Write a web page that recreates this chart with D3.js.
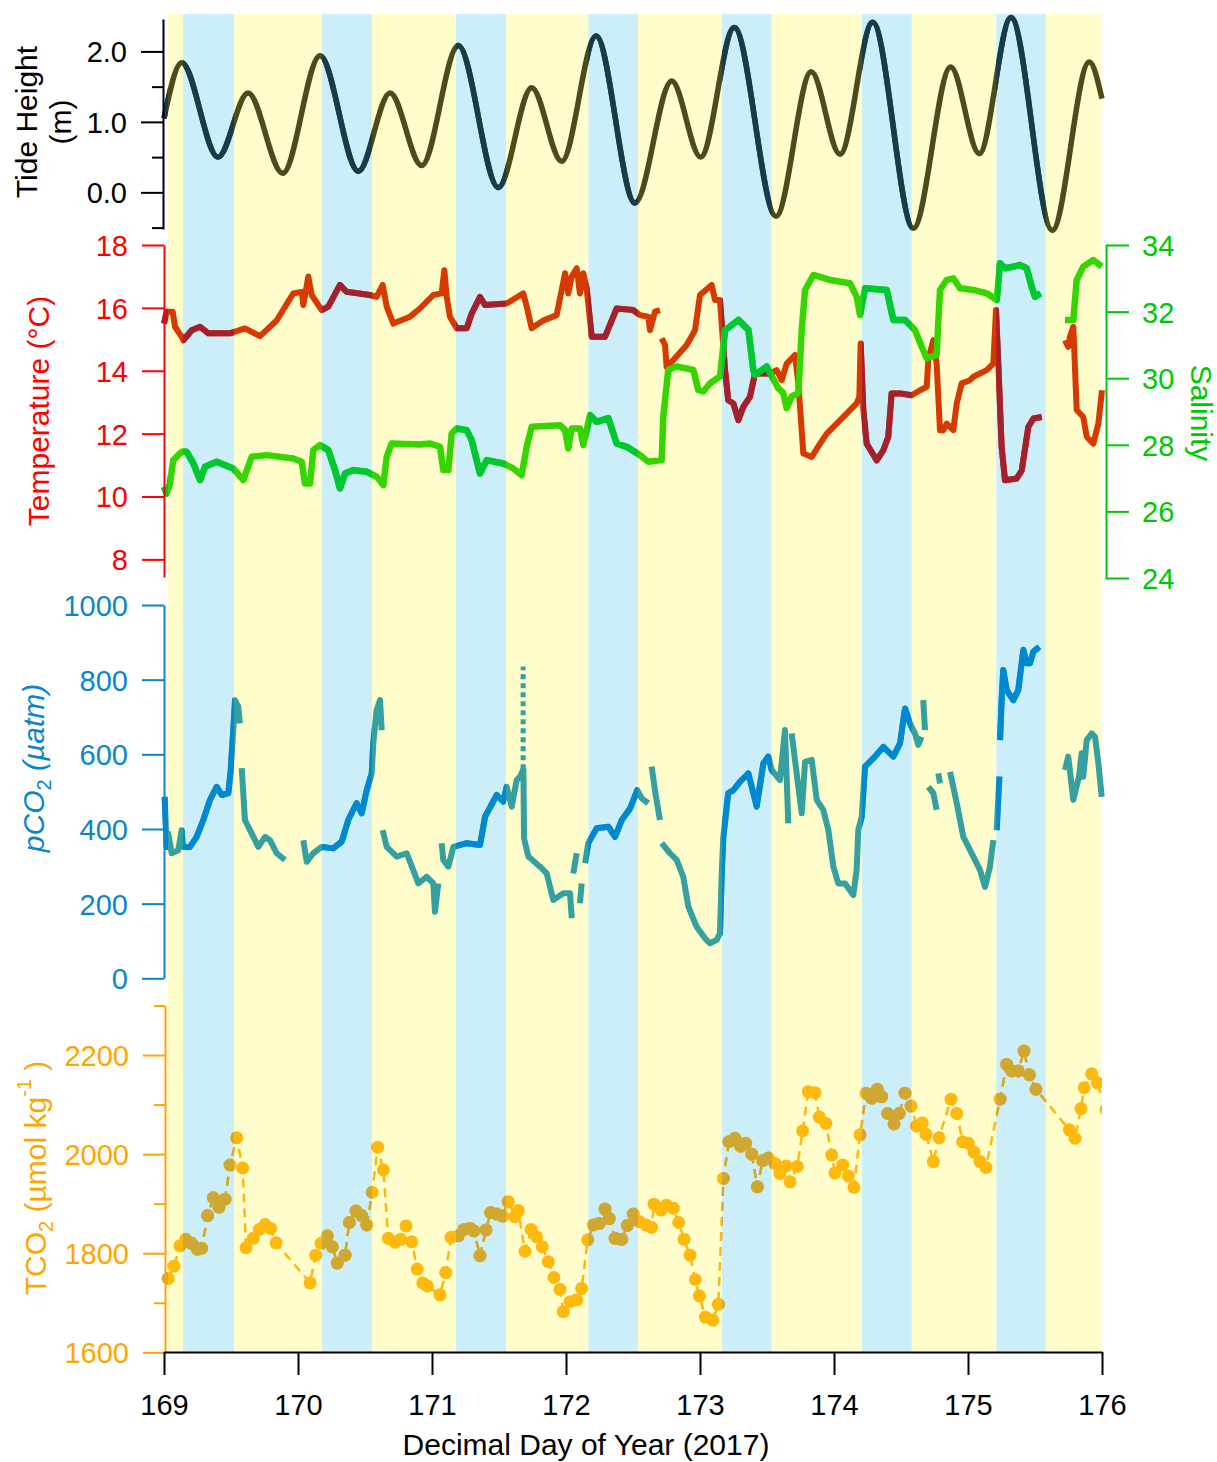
<!DOCTYPE html>
<html><head><meta charset="utf-8">
<script src="https://cdn.jsdelivr.net/npm/d3@7"></script>
<style>body{margin:0;background:#fff}svg{display:block}</style>
</head><body><svg id="c" width="1217" height="1462"></svg>
<script>
// ---------------- DATA ----------------
const nightStart = [169.142, 170.179, 171.179, 172.167, 173.164, 174.209, 175.211];
const nightEnd   = [169.522, 170.552, 171.552, 172.537, 173.535, 174.580, 175.580];
const xTicks = [169,170,171,172,173,174,175,176];

// tide extrema (day, m)
const tide = [[169.000,1.05],[169.132,1.84],[169.403,0.50],[169.627,1.41],[169.886,0.27],[170.164,1.94],[170.450,0.30],[170.687,1.41],[170.923,0.38],[171.196,2.085],[171.495,0.07],[171.744,1.485],[171.968,0.44],[172.224,2.22],[172.515,-0.15],[172.789,1.58],[173.005,0.50],[173.256,2.34],[173.567,-0.34],[173.830,1.71],[174.045,0.54],[174.289,2.415],[174.592,-0.51],[174.871,1.78],[175.084,0.55],[175.321,2.48],[175.629,-0.54],[175.905,1.85],[176.000,1.33]];

const temperature = [[169.000,15.5],[169.020,15.88],[169.065,15.88],[169.082,15.40],[169.132,15.08],[169.144,14.97],[169.207,15.29],[169.269,15.40],[169.331,15.19],[169.493,15.19],[169.604,15.35],[169.716,15.10],[169.841,15.60],[169.965,16.46],[170.028,16.51],[170.040,16.09],[170.077,17.00],[170.102,16.41],[170.177,15.93],[170.226,16.04],[170.313,16.73],[170.363,16.51],[170.537,16.41],[170.587,16.35],[170.632,16.73],[170.662,16.04],[170.711,15.50],[170.836,15.72],[170.910,15.98],[171.010,16.41],[171.072,16.46],[171.092,17.20],[171.110,16.35],[171.134,15.72],[171.184,15.35],[171.259,15.35],[171.296,15.82],[171.358,16.35],[171.396,16.09],[171.557,16.14],[171.681,16.46],[171.707,16.04],[171.744,15.35],[171.831,15.60],[171.930,15.77],[171.993,17.10],[172.017,16.46],[172.043,17.00],[172.080,17.26],[172.104,16.46],[172.129,17.10],[172.154,16.62],[172.192,15.08],[172.291,15.08],[172.378,15.98],[172.502,15.93],[172.552,15.77],[172.614,15.72],[172.627,15.29],[172.664,15.88],[172.701,15.93],null,[172.714,15.03],[172.739,14.82],[172.751,14.12],[172.801,14.34],[172.901,14.82],[172.963,15.29],[173.000,16.41],[173.087,16.73],[173.112,16.25],[173.149,16.25],[173.187,14.02],[173.211,13.06],[173.249,12.96],[173.286,12.43],[173.323,12.85],[173.373,13.17],[173.410,13.91],[173.522,13.91],[173.572,14.02],[173.610,13.70],[173.647,14.23],[173.709,14.50],[173.734,13.60],[173.771,11.37],[173.834,11.26],[173.896,11.68],[173.946,12.00],[174.070,12.53],[174.169,12.96],[174.189,13.17],[174.199,14.87],[174.219,12.75],[174.244,11.68],[174.319,11.15],[174.368,11.47],[174.405,11.90],[174.430,13.28],[174.493,13.28],[174.580,13.22],[174.642,13.38],[174.692,13.49],[174.704,14.34],[174.741,14.97],[174.766,14.23],[174.791,12.11],[174.816,12.11],[174.841,12.32],[174.890,12.11],[174.916,12.96],[174.953,13.60],[175.015,13.70],[175.040,13.81],[175.140,14.02],[175.189,14.23],[175.209,15.93],[175.226,14.23],[175.251,11.58],[175.276,10.52],[175.363,10.57],[175.401,10.83],[175.450,12.21],[175.488,12.48],[175.550,12.53],null,[175.724,14.97],[175.748,14.76],[175.761,15.08],[175.786,15.40],[175.811,12.75],[175.860,12.53],[175.886,11.90],[175.935,11.68],[175.973,12.32],[176.000,13.38]];

const salinity = [[169.000,26.74],[169.020,26.54],[169.045,26.84],[169.069,27.54],[169.132,27.79],[169.169,27.79],[169.219,27.44],[169.269,26.94],[169.306,27.34],[169.393,27.49],[169.517,27.29],[169.592,26.94],[169.654,27.64],[169.766,27.69],[169.965,27.59],[170.028,27.49],[170.052,26.84],[170.090,26.84],[170.114,27.84],[170.164,27.99],[170.226,27.84],[170.276,27.24],[170.313,26.69],[170.351,27.14],[170.413,27.24],[170.513,27.19],[170.587,27.04],[170.637,26.79],[170.662,27.64],[170.699,28.04],[170.910,28.01],[170.985,28.04],[171.060,27.94],[171.084,27.24],[171.122,27.24],[171.147,28.34],[171.184,28.49],[171.259,28.44],[171.296,28.14],[171.358,27.14],[171.408,27.54],[171.532,27.44],[171.607,27.29],[171.669,27.09],[171.707,27.94],[171.744,28.54],[171.955,28.59],[171.993,28.44],[172.017,27.89],[172.043,28.49],[172.104,28.49],[172.129,27.99],[172.179,28.89],[172.229,28.69],[172.316,28.80],[172.378,28.04],[172.453,27.94],[172.552,27.69],[172.614,27.49],[172.714,27.54],[172.726,28.84],[172.763,30.25],[172.826,30.35],[172.950,30.25],[172.987,29.65],[173.025,29.60],[173.075,29.85],[173.149,30.05],[173.187,31.45],[173.224,31.55],[173.286,31.75],[173.361,31.45],[173.398,30.25],[173.410,30.10],[173.498,30.35],[173.584,29.70],[173.622,29.55],[173.647,29.10],[173.684,29.45],[173.734,29.55],[173.759,31.45],[173.784,32.65],[173.846,33.10],[173.970,32.95],[174.119,32.85],[174.169,32.45],[174.194,31.90],[174.231,32.70],[174.393,32.65],[174.443,31.75],[174.530,31.75],[174.604,31.45],[174.654,30.95],[174.692,30.60],[174.766,30.70],[174.791,32.65],[174.841,32.95],[174.890,33.00],[174.940,32.70],[175.040,32.65],[175.140,32.55],[175.214,32.35],[175.239,33.45],[175.276,33.30],[175.338,33.35],[175.388,33.40],[175.438,33.30],[175.475,32.75],[175.500,32.45],[175.542,32.55],null,[175.724,31.75],[175.786,31.75],[175.811,32.95],[175.860,33.35],[175.935,33.55],[175.998,33.35]];

const pco2 = [[169.005,486],[169.020,352],[169.032,388],[169.057,335],[169.107,343],[169.132,397],[169.140,352],[169.194,352],[169.244,379],[169.293,424],[169.343,478],[169.393,513],[169.431,491],[169.480,496],[169.498,558],[169.517,665],[169.530,745],[169.554,728],[169.567,683],null,[169.580,563],[169.604,424],[169.642,397],[169.704,352],[169.754,379],[169.791,370],[169.841,335],[169.903,317],null,[170.040,370],[170.065,312],[170.114,335],[170.177,352],[170.263,348],[170.326,366],[170.375,424],[170.438,469],[170.475,442],[170.513,504],[170.550,549],[170.562,630],[170.587,719],[170.612,745],[170.625,665],null,[170.632,397],[170.662,352],[170.737,326],[170.811,335],[170.860,290],[170.898,254],[170.960,272],[171.010,254],[171.022,178],[171.047,254],null,[171.072,362],[171.084,317],[171.122,299],[171.159,352],[171.259,362],[171.358,357],[171.396,433],[171.483,491],[171.532,473],[171.557,513],[171.595,460],[171.632,531],[171.657,540],[171.682,560],[171.687,375],[171.719,326],[171.806,299],[171.856,281],[171.905,210],[171.980,228],[172.030,228],[172.043,161],null,[172.054,281],[172.080,335],null,[172.104,201],[172.117,254],null,[172.142,308],[172.166,362],[172.192,379],[172.229,402],[172.316,406],[172.366,379],[172.416,424],[172.478,455],[172.532,504],[172.565,482],[172.614,469],null,[172.639,567],[172.664,504],[172.701,424],null,[172.714,362],[172.776,335],[172.826,317],[172.875,272],[172.913,192],[172.975,138],[173.037,107],[173.075,94],[173.125,103],[173.149,121],[173.162,281],[173.174,379],[173.211,496],[173.249,504],[173.299,527],[173.361,549],[173.398,496],[173.423,460],[173.473,576],[173.510,594],[173.535,558],[173.597,531],[173.634,665],[173.659,415],null,[173.684,656],[173.734,513],[173.759,442],[173.784,580],[173.834,585],[173.871,478],[173.920,451],[173.958,397],[173.995,299],[174.032,254],[174.082,254],[174.144,223],[174.169,290],[174.181,397],[174.207,433],[174.231,567],[174.293,589],[174.368,620],[174.443,594],[174.493,630],[174.530,723],[174.567,683],[174.604,656],[174.629,625],[174.654,647],null,[174.666,745],[174.679,665],null,[174.704,513],[174.741,496],[174.766,451],null,[174.779,549],[174.791,522],null,[174.866,553],[174.916,469],[174.965,379],[175.040,326],[175.090,290],[175.127,245],[175.164,299],[175.189,370],null,[175.214,397],[175.234,540],null,[175.239,638],[175.251,745],[175.263,826],[175.289,772],[175.338,745],[175.375,772],[175.413,880],[175.438,844],[175.463,844],[175.488,875],[175.532,888],null,[175.724,558],[175.748,594],[175.786,478],[175.828,540],[175.848,603],[175.860,540],[175.886,638],[175.923,656],[175.948,647],[175.973,576],[175.998,486]];
const pco2Spike = [[171.680,560],[171.680,835]];

const tco2 = [[169.032,1749],[169.075,1774],[169.119,1815],[169.162,1828],[169.207,1820],[169.249,1808],[169.281,1810],[169.326,1876],[169.368,1912],[169.410,1893],[169.455,1909],[169.493,1978],[169.543,2033],[169.587,1972],[169.612,1811],[169.666,1830],[169.711,1848],[169.754,1858],[169.796,1850],[169.836,1821],[170.090,1740],[170.132,1796],[170.172,1820],[170.219,1835],[170.256,1813],[170.293,1780],[170.351,1796],[170.383,1862],[170.433,1885],[170.475,1876],[170.513,1857],[170.554,1923],[170.595,2014],[170.637,1968],[170.674,1830],[170.724,1822],[170.766,1828],[170.806,1855],[170.849,1823],[170.890,1768],[170.931,1740],[170.965,1734],[171.060,1716],[171.102,1761],[171.142,1832],[171.196,1835],[171.239,1848],[171.284,1850],[171.313,1845],[171.358,1795],[171.403,1847],[171.438,1882],[171.483,1879],[171.528,1875],[171.569,1904],[171.619,1874],[171.644,1886],[171.694,1804],[171.739,1848],[171.781,1833],[171.823,1813],[171.868,1783],[171.910,1751],[171.955,1727],[171.980,1682],[172.030,1702],[172.080,1706],[172.117,1729],[172.162,1827],[172.204,1857],[172.249,1860],[172.291,1889],[172.323,1870],[172.366,1830],[172.416,1828],[172.458,1856],[172.502,1879],[172.547,1864],[172.597,1857],[172.639,1852],[172.657,1899],[172.709,1887],[172.751,1897],[172.801,1891],[172.841,1862],[172.881,1828],[172.925,1796],[172.965,1747],[172.995,1714],[173.040,1671],[173.095,1665],[173.137,1697],[173.174,1951],[173.216,2025],[173.261,2032],[173.304,2016],[173.341,2022],[173.386,2000],[173.428,1934],[173.468,1987],[173.510,1992],[173.560,1981],[173.597,1961],[173.642,1976],[173.672,1944],[173.726,1975],[173.766,2047],[173.808,2126],[173.858,2124],[173.890,2075],[173.940,2062],[173.983,1998],[174.007,1962],[174.065,1978],[174.107,1956],[174.149,1933],[174.194,2039],[174.239,2123],[174.281,2113],[174.323,2131],[174.356,2116],[174.401,2082],[174.448,2061],[174.487,2082],[174.530,2123],[174.575,2097],[174.617,2057],[174.659,2063],[174.687,2040],[174.741,1985],[174.784,2033],[174.873,2111],[174.916,2082],[174.960,2025],[175.002,2022],[175.045,2004],[175.090,1985],[175.134,1973],[175.239,2111],[175.289,2181],[175.326,2168],[175.375,2168],[175.418,2208],[175.458,2160],[175.507,2131],[175.756,2049],[175.799,2032],[175.843,2092],[175.866,2134],[175.923,2162],[175.965,2144],[176.030,2090]];

// ---------------- CHART ----------------
const FONT = '"Liberation Sans", Arial, Helvetica, sans-serif';
const svg = d3.select('#c');
const x = d3.scaleLinear().domain([169,176]).range([164,1102]);
const TOP = 14, BOTTOM = 1352;

const yTide = d3.scaleLinear().domain([-0.52,2.46]).range([229,19]);
const yTemp = d3.scaleLinear().domain([7.44,18]).range([577,245]);
const ySal  = d3.scaleLinear().domain([24,34]).range([578,245]);
const yPco2 = d3.scaleLinear().domain([0,1000]).range([978.3,605]);
const yTco2 = d3.scaleLinear().domain([1600,2300]).range([1352.3,1005.5]);

// background bands
const dayS = [169.03, ...nightEnd], dayE = [...nightStart, 176];
const bg = svg.append('g');
bg.selectAll('rect.day').data(d3.range(dayS.length)).join('rect').attr('class','day')
  .attr('x', i => x(dayS[i])).attr('width', i => x(dayE[i]) - x(dayS[i]))
  .attr('y', TOP).attr('height', BOTTOM - TOP).attr('fill', '#fffdcc');
bg.selectAll('rect.night').data(d3.range(nightStart.length)).join('rect').attr('class','night')
  .attr('x', i => x(nightStart[i])).attr('width', i => x(nightEnd[i]) - x(nightStart[i]))
  .attr('y', TOP).attr('height', BOTTOM - TOP).attr('fill', '#cbeef9');

// clip for night colouring
const defs = svg.append('defs');
const nightIntervals = [[168.5,169.03], ...nightStart.map((s,i)=>[s,nightEnd[i]])];
defs.append('clipPath').attr('id','nightClip').selectAll('rect').data(nightIntervals).join('rect')
  .attr('x', d => x(d[0])).attr('width', d => x(d[1]) - x(d[0])).attr('y', 0).attr('height', 1462);
defs.append('clipPath').attr('id','plotClip').append('rect').attr('x',100).attr('y',0).attr('width', x(176)-100).attr('height',1462);

function drawLine(data, y, dayColor, nightColor, width, opts = {}) {
  const line = d3.line().defined(d => d !== null).x(d => x(d[0])).y(d => y(d[1]));
  if (opts.curve) line.curve(opts.curve);
  const g = svg.append('g');
  if (opts.clip) g.attr('clip-path', 'url(#plotClip)');
  const p1 = g.append('path').attr('d', line(data)).attr('fill','none').attr('stroke', dayColor)
    .attr('stroke-width', width).attr('stroke-linejoin', opts.join || 'round').attr('stroke-linecap', opts.cap || 'butt');
  const g2 = g.append('g').attr('clip-path','url(#nightClip)');
  const p2 = g2.append('path').attr('d', line(data)).attr('fill','none').attr('stroke', nightColor)
    .attr('stroke-width', width).attr('stroke-linejoin', opts.join || 'round').attr('stroke-linecap', opts.cap || 'butt');
  if (opts.dash) { p1.attr('stroke-dasharray', opts.dash); p2.attr('stroke-dasharray', opts.dash); }
  return g;
}

// tide
drawLine(tide, yTide, '#4c4b1c', '#173b4b', 5.5, {curve: d3.curveMonotoneX});
// temperature & salinity
drawLine(temperature, yTemp, '#d63a02', '#a3212f', 6, {join:'round'});
drawLine(salinity, ySal, '#36d400', '#00c832', 6.5, {join:'round'});
// pCO2
drawLine(pco2Spike, yPco2, '#35a0a0', '#0088d0', 5, {dash:'5,4'});
drawLine(pco2, yPco2, '#35a0a0', '#0088d0', 6, {join:'round'});
// TCO2
const tg = drawLine(tco2, yTco2, '#ffb80c', '#cfa834', 2.5, {dash:'9,6', clip:true});
tg.append('g').selectAll('circle').data(tco2).join('circle')
  .attr('cx', d => x(d[0])).attr('cy', d => yTco2(d[1])).attr('r', 6.5).attr('fill', '#ffb80c');
tg.append('g').attr('clip-path','url(#nightClip)').selectAll('circle').data(tco2).join('circle')
  .attr('cx', d => x(d[0])).attr('cy', d => yTco2(d[1])).attr('r', 6.5).attr('fill', '#cfa834');

// axes
function styleAxis(g, color) {
  g.attr('font-family', FONT).attr('font-size', 29);
  g.selectAll('path, line').attr('stroke', color).attr('stroke-width', 2);
  g.selectAll('text').attr('fill', color);
}
function leftAxis(scale, xPos, major, minor, color, fmt) {
  const g = svg.append('g').attr('transform', `translate(${xPos},0)`)
    .call(d3.axisLeft(scale).tickValues(major).tickSize(22).tickSizeOuter(0).tickPadding(14).tickFormat(fmt));
  styleAxis(g, color);
  g.selectAll('text').attr('dy', '0.36em');
  if (minor) {
    const m = svg.append('g').attr('transform', `translate(${xPos},0)`)
      .call(d3.axisLeft(scale).tickValues(minor).tickSize(11).tickSizeOuter(0).tickFormat(''));
    m.select('.domain').remove();
    styleAxis(m, color);
  }
}
leftAxis(yTide, 163, [0,1,2], [-0.5,0.5,1.5], '#000', d3.format('.1f'));
leftAxis(yTemp, 164, [8,10,12,14,16,18], null, '#ff0000', d3.format('d'));
leftAxis(yPco2, 164, [0,200,400,600,800,1000], null, '#0a86c8', d3.format('d'));
leftAxis(yTco2, 165, [1600,1800,2000,2200], [1700,1900,2100,2300], '#ffa500', d3.format('d'));

const sal = svg.append('g').attr('transform','translate(1106,0)')
  .call(d3.axisRight(ySal).tickValues([24,26,28,30,32,34]).tickSize(23).tickSizeOuter(0).tickPadding(13).tickFormat(d3.format('d')));
styleAxis(sal, '#00c800');
sal.selectAll('text').attr('dy','0.36em');

const xa = svg.append('g').attr('transform', `translate(0,${BOTTOM})`)
  .call(d3.axisBottom(x).tickValues(xTicks).tickSize(23).tickSizeOuter(0).tickPadding(19).tickFormat(d3.format('d')));
styleAxis(xa, '#000');

// axis titles
function vTitle(xp, yp, color, rot) {
  return svg.append('text').attr('transform', `translate(${xp},${yp}) rotate(${rot || -90})`)
    .attr('text-anchor','middle').attr('font-family', FONT).attr('font-size', 30).attr('fill', color);
}
vTitle(37, 122, '#000').text('Tide Height');
vTitle(71, 122, '#000').text('(m)');
vTitle(49, 411, '#ff0000').text('Temperature (°C)');
vTitle(1191, 413, '#00c800', 90).text('Salinity');
const pt = vTitle(44, 768, '#0a86c8');
pt.append('tspan').attr('font-style','italic').text('p');
pt.append('tspan').attr('font-style','italic').text('CO');
pt.append('tspan').attr('font-size', 20).attr('dy', 7).text('2');
pt.append('tspan').attr('font-style','italic').attr('dy', -7).text(' (µatm)');
const tt = vTitle(46, 1178, '#ffa500');
tt.append('tspan').text('TCO');
tt.append('tspan').attr('font-size', 20).attr('dy', 7).text('2');
tt.append('tspan').attr('dy', -7).text(' (µmol kg');
tt.append('tspan').attr('font-size', 20).attr('dy', -15).text('-1');
tt.append('tspan').attr('dy', 15).text(' )');

svg.append('text').attr('x', 586).attr('y', 1455).attr('text-anchor','middle')
  .attr('font-family', FONT).attr('font-size', 30).attr('fill','#000').text('Decimal Day of Year (2017)');
</script>
</body></html>
